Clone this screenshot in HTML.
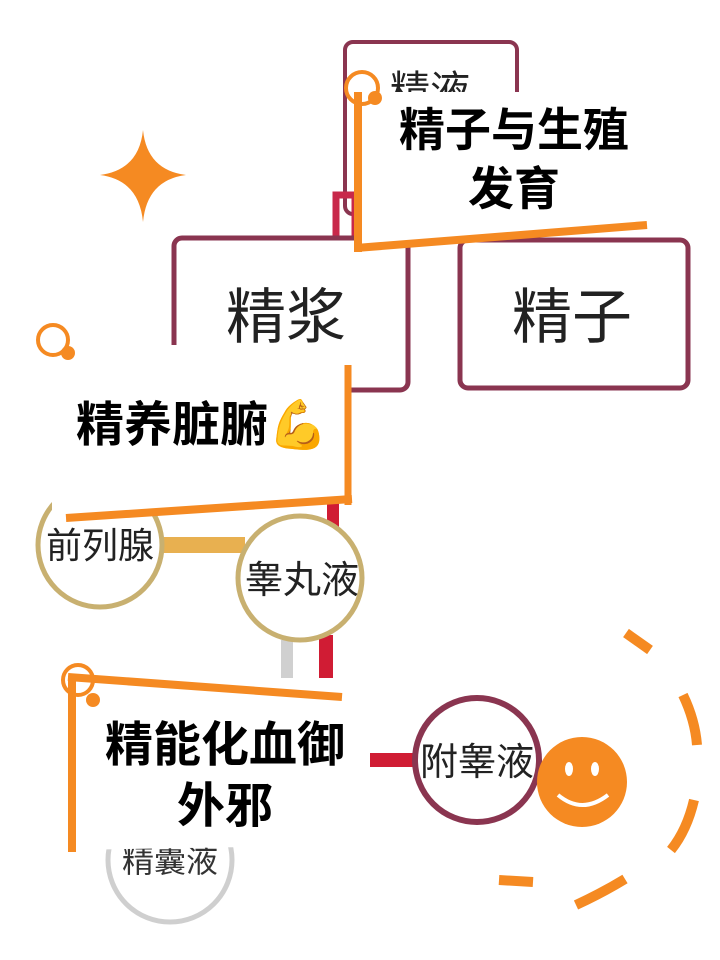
<!DOCTYPE html>
<html><head><meta charset="utf-8"><style>
body{margin:0;width:720px;height:960px;overflow:hidden;background:#fff;font-family:"Liberation Sans","Noto Sans CJK SC",sans-serif;}
svg{position:absolute;left:0;top:0}
</style></head><body>
<svg width="720" height="960" viewBox="0 0 720 960" xmlns="http://www.w3.org/2000/svg">
<g font-family="Liberation Sans, Noto Sans CJK SC, sans-serif">
<rect x="345" y="42" width="172" height="172" rx="8" fill="#fff" stroke="#8a3550" stroke-width="4"/>
<text x="430" y="104" font-size="40" text-anchor="middle" fill="#222">精液</text>
<path d="M336 238 V195 H355 V238" fill="none" stroke="#c8284a" stroke-width="7"/>
<rect x="174" y="238" width="234" height="152" rx="8" fill="#fff" stroke="#8a3550" stroke-width="5"/>
<text x="286" y="338" font-size="60" text-anchor="middle" fill="#222">精浆</text>
<rect x="460" y="240" width="228" height="148" rx="8" fill="#fff" stroke="#8a3550" stroke-width="5"/>
<text x="572" y="338" font-size="60" text-anchor="middle" fill="#222">精子</text>
<path d="M143 130 Q147 170 186 175 Q147 180 143 222 Q139 180 100 175 Q139 170 143 130Z" fill="#f58a22"/>
<line x1="160" y1="545" x2="245" y2="545" stroke="#e8b050" stroke-width="16"/>
<line x1="333" y1="500" x2="333" y2="530" stroke="#d01c34" stroke-width="12"/>
<line x1="287" y1="640" x2="287" y2="700" stroke="#d0d0d0" stroke-width="12"/>
<line x1="326" y1="635" x2="326" y2="700" stroke="#d01c34" stroke-width="14"/>
<line x1="368" y1="760" x2="418" y2="760" stroke="#d01c34" stroke-width="14"/>
<circle cx="100" cy="545" r="62" fill="#fff" stroke="#c8b070" stroke-width="5"/>
<text x="100" y="558" font-size="36" text-anchor="middle" fill="#222">前列腺</text>
<circle cx="300" cy="578" r="62" fill="#fff" stroke="#c8b070" stroke-width="5"/>
<text x="302" y="593" font-size="38" text-anchor="middle" fill="#222">睾丸液</text>
<circle cx="170" cy="860" r="62" fill="#fff" stroke="#cfcfcf" stroke-width="5"/>
<text x="170" y="872" font-size="32" text-anchor="middle" fill="#333">精囊液</text>
<circle cx="477" cy="760" r="62" fill="#fff" stroke="#8a3550" stroke-width="6"/>
<text x="477" y="775" font-size="38" text-anchor="middle" fill="#222">附睾液</text>
<circle cx="582" cy="782" r="45" fill="#f58a22"/>
<ellipse cx="569" cy="769" rx="4" ry="7" fill="#fff"/>
<ellipse cx="595" cy="769" rx="4" ry="7" fill="#fff"/>
<path d="M558 795 Q582 815 608 795" fill="none" stroke="#fff" stroke-width="4"/>
<g stroke="#f58a22" stroke-width="10" fill="none">
<path d="M626 633 L650 650"/>
<path d="M683 695 Q695 720 697 745"/>
<path d="M694 800 Q687 830 671 850"/>
<path d="M625 879 Q602 893 576 905"/>
<path d="M533 882 L499 880"/>
</g>
<path d="M357 92 H645 V222 L357 250Z" fill="#fff"/>
<line x1="358" y1="92" x2="358" y2="252" stroke="#f58a22" stroke-width="8"/>
<line x1="356" y1="248" x2="647" y2="225" stroke="#f58a22" stroke-width="8"/>
<circle cx="362" cy="88" r="16" fill="none" stroke="#f58a22" stroke-width="4"/>
<circle cx="375" cy="98" r="7" fill="#f58a22"/>
<text x="514" y="146" font-size="46" font-weight="bold" text-anchor="middle" fill="#000">精子与生殖</text>
<text x="514" y="205" font-size="46" font-weight="bold" text-anchor="middle" fill="#000">发育</text>
<path d="M52 345 H350 V502 L52 520Z" fill="#fff"/>
<line x1="348" y1="365" x2="348" y2="505" stroke="#f58a22" stroke-width="7"/>
<line x1="66" y1="518" x2="352" y2="499" stroke="#f58a22" stroke-width="8"/>
<circle cx="53" cy="340" r="15" fill="none" stroke="#f58a22" stroke-width="4"/>
<circle cx="68" cy="353" r="7" fill="#f58a22"/>
<text x="76" y="441" font-size="48" font-weight="bold" fill="#000">精养脏腑💪</text>
<path d="M70 678 H370 V845 L70 850Z" fill="#fff"/>
<line x1="72" y1="676" x2="72" y2="852" stroke="#f58a22" stroke-width="8"/>
<line x1="68" y1="677" x2="342" y2="697" stroke="#f58a22" stroke-width="8"/>
<circle cx="78" cy="680" r="15" fill="none" stroke="#f58a22" stroke-width="4"/>
<circle cx="93" cy="700" r="7" fill="#f58a22"/>
<text x="225" y="761" font-size="48" font-weight="bold" text-anchor="middle" fill="#000">精能化血御</text>
<text x="225" y="822" font-size="48" font-weight="bold" text-anchor="middle" fill="#000">外邪</text>
</g>
</svg>
</body></html>
